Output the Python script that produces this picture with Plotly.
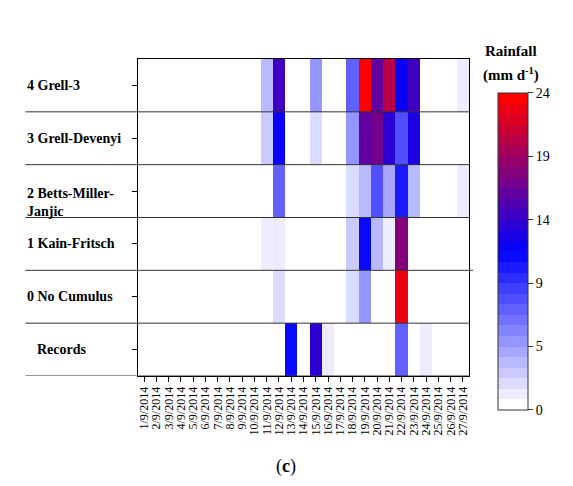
import plotly.graph_objects as go

dates = [f"{d}/9/2014" for d in range(1, 28)]
rows = ["Records", "0 No Cumulus", "1 Kain-Fritsch", "2 Betts-Miller-<br>Janjic", "3 Grell-Devenyi", "4 Grell-3"]

# values (mm/d) per row, keyed by day of September
records = {13: 11.3, 15: 13.9, 16: 1.0, 22: 7.3, 24: 1.0}
no_cumulus = {12: 1.6, 18: 1.9, 19: 5.4, 22: 22.4}
kain_fritsch = {11: 0.8, 12: 0.8, 18: 2.6, 19: 11.3, 20: 3.3, 21: 1.0, 22: 17.9}
betts_miller = {12: 7.3, 18: 1.9, 19: 3.3, 20: 8.2, 21: 4.5, 22: 10.6, 23: 3.3, 27: 1.0}
grell_devenyi = {11: 2.6, 12: 12.3, 15: 2.4, 18: 5.4, 19: 16.2, 20: 17.0, 21: 14.3, 22: 8.2, 23: 13.4}
grell_3 = {11: 3.4, 12: 14.4, 15: 5.0, 18: 7.3, 19: 24.0, 20: 16.7, 21: 20.5, 22: 12.0, 23: 14.4, 27: 1.0}

series = [records, no_cumulus, kain_fritsch, betts_miller, grell_devenyi, grell_3]
z = [[s.get(d, 0.0) for d in range(1, 28)] for s in series]

cb_tickvals = [0, 4.8, 9.6, 14.4, 19.2, 24]
cb_ticktext = ["0", "5", "9", "14", "19", "24"]


def col(v):
    if v <= 12:
        t = v / 12
        r = g = round(255 * (1 - t))
        b = 255
    else:
        t = (v - 12) / 12
        r = round(255 * t)
        g = 0
        b = round(255 * (1 - t))
    return f"rgb({r},{g},{b})"


N = 30
cs = []
for i in range(N):
    c = col(i / (N - 1) * 24)
    cs.append([i / N, c])
    cs.append([(i + 1) / N, c])

serif = "Liberation Serif"

fig = go.Figure(go.Heatmap(
    z=z, x=dates, y=list(range(len(rows))),
    zmin=0, zmax=24, colorscale=cs,
    colorbar=dict(
        x=1.0876, xanchor="left", xpad=0, ypad=0,
        y=0.393, yanchor="middle", len=1.0, lenmode="fraction",
        thickness=30, outlinewidth=1, outlinecolor="#333",
        tickmode="array", tickvals=cb_tickvals, ticktext=cb_ticktext,
        ticks="outside", ticklen=5, tickcolor="#333",
        tickfont=dict(family=serif, size=14, color="black"),
    ),
    hoverinfo="skip",
))

fig.update_layout(
    width=573, height=486,
    margin=dict(l=138, r=104, t=59, b=110),
    paper_bgcolor="white", plot_bgcolor="white",
    font=dict(family=serif, color="black"),
    xaxis=dict(type="category", range=[-0.5, 26.5], showline=True, linecolor="black",
               linewidth=1, mirror=True, ticks="outside", ticklen=5, tickcolor="black",
               tickmode="array", tickvals=dates, ticktext=dates,
               tickangle=-90, tickfont=dict(family=serif, size=12, color="black"),
               showgrid=False),
    yaxis=dict(range=[-0.5, 5.5], showline=True, linecolor="black", linewidth=1, mirror=True,
               ticks="outside", ticklen=5, tickcolor="black", tickvals=list(range(6)),
               showticklabels=False, showgrid=False, zeroline=False),
)

shapes = []
for k in range(6):
    yb = k - 0.5
    x1 = 1.012 if k == 2 else 1.0
    shapes.append(dict(type="line", xref="paper", yref="y", x0=-0.34, x1=x1, y0=yb, y1=yb,
                       line=dict(color="#333", width=1)))
fig.update_layout(shapes=shapes)

ann = []
for i, name in enumerate(rows):
    xpos = -0.311 if name == "Records" else -0.341
    ys = -11 if "<br>" in name else 0
    ann.append(dict(text=f"<b>{name}</b>", xref="paper", yref="y", x=xpos, y=i, yshift=ys,
                    xanchor="left", yanchor="middle", showarrow=False, align="left",
                    font=dict(family=serif, size=14, color="black")))
ann.append(dict(text="<b>Rainfall</b>", xref="paper", yref="paper", x=1.127, y=1.024,
                xanchor="center", yanchor="middle", showarrow=False,
                font=dict(family=serif, size=15, color="black")))
ann.append(dict(text="<b>(mm d<sup>-1</sup>)</b>", xref="paper", yref="paper", x=1.127, y=0.95,
                xanchor="center", yanchor="middle", showarrow=False,
                font=dict(family=serif, size=15, color="black")))
ann.append(dict(text="(<b>c</b>)", xref="paper", yref="paper", x=0.447, y=-0.287,
                xanchor="center", yanchor="middle", showarrow=False,
                font=dict(family=serif, size=18, color="black")))
fig.update_layout(annotations=ann)

fig.write_html("out.html")
